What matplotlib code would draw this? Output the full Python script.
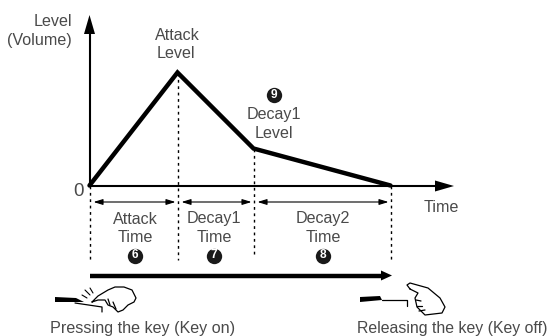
import matplotlib
matplotlib.use("Agg")
import matplotlib.pyplot as plt
from matplotlib.patches import Polygon

# envelope, in units from the origin
env_time = [0, 88, 164, 301]
env_level = [0, 113, 37, 0]
phase_names = [("Attack", "Time"), ("Decay1", "Time"), ("Decay2", "Time")]
phase_marks = ["6", "7", "8"]

plt.rcParams["font.family"] = ["Liberation Sans", "DejaVu Sans"]
GREY = "#4a4a4a"
OX, OY = 89.5, 185.5


def P(x, y):
    # picture pixel -> data
    return x - OX, OY - y


def label(x, y, s, size=11.6, ha="center"):
    ax.text(*P(x, y + 1), s, fontsize=size, color=GREY, ha=ha, va="center")


def badge(x, y, s):
    ax.scatter(*P(x, y), s=122, color="#1a1a1a", zorder=5, linewidths=0)
    ax.text(*P(x, y - 0.3), s, fontsize=8.6, color="white", fontweight="bold",
            ha="center", va="center", zorder=6)


def stroke(pts, lw=0.9):
    xs, ys = zip(*[P(*p) for p in pts])
    ax.plot(xs, ys, color="black", lw=lw, solid_capstyle="round",
            solid_joinstyle="round")


def arrow(x0, y0, x1, y1, lw, style):
    ax.annotate("", xy=P(x1, y1), xytext=P(x0, y0),
                arrowprops=dict(arrowstyle=style, color="black", lw=lw,
                                shrinkA=0, shrinkB=0))


fig = plt.figure(figsize=(5.49, 3.36), dpi=100)
ax = fig.add_axes([0, 0, 1, 1])
ax.set_xlim(-OX, 549 - OX)
ax.set_ylim(OY - 336, OY)
ax.axis("off")

# axes
ax.plot([0, 0], [0, OY - 30], color="black", lw=1.5)
ax.plot([0, 348], [0, 0], color="black", lw=1.5)
ax.add_patch(Polygon([P(89.5, 15), P(84, 34), P(95, 34)], color="black", lw=0))
ax.add_patch(Polygon([P(454, 186), P(435, 180.5), P(435, 191.5)], color="black", lw=0))

# dotted guides
guide_ends = [260, 260, 257, 261]
for t, lv, end in zip(env_time, env_level, guide_ends):
    ax.plot([t, t], [lv, OY - end], color="black", lw=1.0, ls=(0, (2, 2.6)))

# envelope
ax.plot(env_time, env_level, color="black", lw=3.2, solid_joinstyle="miter",
        solid_capstyle="round", zorder=4)

# phase spans and labels
for i in range(3):
    a, b = env_time[i], env_time[i + 1]
    arrow(a + OX + 4, 202, b + OX - 2, 202, 0.8, "<|-|>,head_length=0.55,head_width=0.17")
    cx = [135, 214, 323][i]
    label(cx, 218, phase_names[i][0])
    label(cx, 237, phase_names[i][1])
    badge(cx, 255.5, phase_marks[i])

# key held bar
ax.plot([0, 294], [OY - 275.5, OY - 275.5], color="black", lw=3.2, solid_capstyle="butt")
ax.add_patch(Polygon([P(392, 275.5), P(381, 270.5), P(381, 280.5)], color="black", lw=0))

# text
label(72, 21, "Level", ha="right")
label(72, 40, "(Volume)", ha="right")
label(177, 35, "Attack")
label(176, 53, "Level")
badge(274, 95, "9")
label(274, 114, "Decay1")
label(274, 132, "Level")
label(441, 206, "Time")
label(79, 191, "0", size=13.5)
label(143, 328, "Pressing the key (Key on)")
label(452, 328, "Releasing the key (Key off)", size=11.4)

# pressed key and hand
ax.add_patch(Polygon([P(55, 297), P(76, 298), P(84, 302), P(55, 302)], color="black", lw=0))
stroke([(75, 303), (102, 307), (102, 312)])
stroke([(92, 302), (98, 296), (108, 290), (115, 287), (124, 287), (132, 290), (136, 298),
        (134, 302), (128, 305), (123, 310), (118, 312), (113, 307), (108, 305), (105, 300),
        (98, 300), (92, 302)])
stroke([(108, 299), (110, 305)])
stroke([(113, 302), (116, 309)])
for seg in [[(82, 295), (87, 298)], [(85, 290), (90, 295)], [(90, 288), (93, 293)]]:
    stroke(seg, lw=0.8)

# released key and hand
ax.add_patch(Polygon([P(360, 297), P(380, 296), P(382, 300), P(360, 302)], color="black", lw=0))
stroke([(382, 300), (407, 300), (407, 306)])
stroke([(410, 289), (407, 285), (410, 283), (428, 288), (440, 298), (445, 307), (442, 313),
        (425, 315), (417, 307), (415, 298), (418, 293), (410, 289)])
stroke([(416, 300), (421, 301)])
stroke([(417, 306), (422, 306)])
stroke([(419, 311), (425, 310)])

fig.savefig("out.png", dpi=100)
